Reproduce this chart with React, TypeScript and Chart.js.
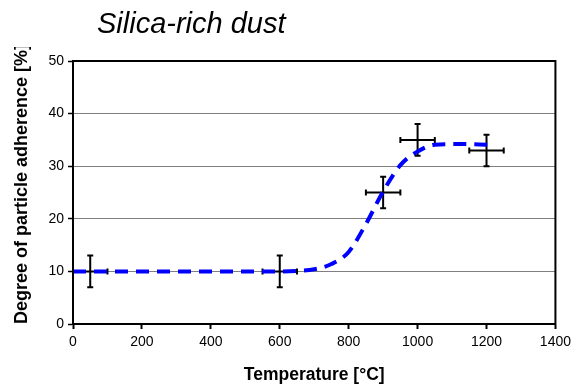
import React, { useEffect, useRef } from 'react';
import { Chart, registerables } from 'chart.js';

Chart.register(...registerables);

const FONT = '"Liberation Sans", Arial, sans-serif';

const chartTitle = 'Silica-rich dust';
const xTitle = 'Temperature [°C]';
const yTitle = 'Degree of particle adherence [%]';

// measured points with error bars
const measTemp = [50, 600, 900, 1000, 1200];
const measAdh = [10, 10, 25, 35, 33];
const tempErr = [50, 50, 50, 50, 50];
const adhErr = [3, 3, 3, 3, 3];

// fitted (dashed) curve
const fitTemp = [0, 100, 200, 300, 400, 500, 600, 650, 700, 750, 800, 850, 900, 950, 1000, 1050, 1100, 1150, 1200, 1225];
const fitAdh = [10, 10, 10, 10, 10, 10, 10, 10.1, 10.4, 11.4, 13.7, 19, 25.2, 30.2, 32.8, 34.1, 34.2, 34.2, 34.1, 34];

const xTicks = [0, 200, 400, 600, 800, 1000, 1200, 1400];
const yTicks = [0, 10, 20, 30, 40, 50];

const errorBarPlugin = {
  id: 'errorBars',
  beforeDatasetsDraw(chart: any) {
    const { ctx, scales } = chart;
    const x = scales.x;
    const y = scales.y;
    ctx.save();
    ctx.strokeStyle = '#000';
    ctx.lineWidth = 2;
    const c = 3;
    measTemp.forEach((t, i) => {
      const px = x.getPixelForValue(t);
      const py = y.getPixelForValue(measAdh[i]);
      const x0 = x.getPixelForValue(t - tempErr[i]);
      const x1 = x.getPixelForValue(t + tempErr[i]);
      const y0 = y.getPixelForValue(measAdh[i] - adhErr[i]);
      const y1 = y.getPixelForValue(measAdh[i] + adhErr[i]);
      ctx.beginPath();
      ctx.moveTo(x0, py); ctx.lineTo(x1, py);
      ctx.moveTo(px, y0); ctx.lineTo(px, y1);
      ctx.moveTo(x0, py - c); ctx.lineTo(x0, py + c);
      ctx.moveTo(x1, py - c); ctx.lineTo(x1, py + c);
      ctx.moveTo(px - c, y0); ctx.lineTo(px + c, y0);
      ctx.moveTo(px - c, y1); ctx.lineTo(px + c, y1);
      ctx.stroke();
    });
    ctx.restore();
  },
};

const framePlugin = {
  id: 'frame',
  beforeDraw(chart: any) {
    const { ctx, width, height } = chart;
    ctx.save();
    ctx.beginPath();
    ctx.rect(0, 47, width, height - 47);
    ctx.clip();
  },
  afterDatasetsDraw(chart: any) {
    const { ctx, chartArea } = chart;
    ctx.save();
    ctx.strokeStyle = '#000';
    ctx.lineWidth = 2;
    ctx.strokeRect(chartArea.left, chartArea.top, chartArea.right - chartArea.left, chartArea.bottom - chartArea.top);
    ctx.restore();
  },
  afterDraw(chart: any) {
    const { ctx } = chart;
    ctx.restore();
    ctx.save();
    ctx.fillStyle = '#000';
    ctx.font = `italic 29px ${FONT}`;
    ctx.textBaseline = 'alphabetic';
    ctx.textAlign = 'left';
    ctx.fillText(chartTitle, 97, 33);
    ctx.restore();
  },
};

export default function App() {
  const ref = useRef<HTMLCanvasElement | null>(null);

  useEffect(() => {
    if (!ref.current) return;
    const chart = new Chart(ref.current, {
      type: 'scatter',
      data: {
        datasets: [
          {
            type: 'line',
            label: 'fit',
            data: fitTemp.map((t, i) => ({ x: t, y: fitAdh[i] })),
            borderColor: '#0000FF',
            borderWidth: 4,
            borderDash: [13, 8],
            cubicInterpolationMode: 'monotone',
            pointRadius: 0,
            fill: false,
          } as any,
          {
            type: 'scatter',
            label: 'measured',
            data: measTemp.map((t, i) => ({ x: t, y: measAdh[i] })),
            pointRadius: 0,
            pointHoverRadius: 0,
          },
        ],
      },
      options: {
        animation: false,
        responsive: true,
        maintainAspectRatio: false,
        layout: { padding: { top: 61, right: 16, left: 0, bottom: 0 } },
        plugins: {
          legend: { display: false },
          tooltip: { enabled: false },
          title: { display: false },
        },
        scales: {
          x: {
            type: 'linear',
            min: 0,
            max: 1400,
            afterFit: (s: any) => { s.height = 60; },
            afterBuildTicks: (s: any) => { s.ticks = xTicks.map((v) => ({ value: v })); },
            ticks: {
              color: '#000',
              font: { family: FONT, size: 14 },
              padding: 5,
              maxRotation: 0,
              autoSkip: false,
              callback: (v: any) => String(v),
            },
            grid: { color: 'rgba(0,0,0,0)', tickColor: '#000', tickLength: 5, tickWidth: 2 },
            border: { display: true, color: '#000', width: 2 },
            title: {
              display: true,
              text: xTitle,
              color: '#000',
              font: { family: FONT, size: 17.5, weight: 'bold', lineHeight: 1 },
              padding: { top: 0, bottom: 0 },
            },
          },
          y: {
            type: 'linear',
            min: 0,
            max: 50,
            afterFit: (s: any) => { s.width = 73; },
            afterBuildTicks: (s: any) => { s.ticks = yTicks.map((v) => ({ value: v })); },
            ticks: {
              color: '#000',
              font: { family: FONT, size: 14 },
              padding: 4,
              callback: (v: any) => String(v),
            },
            grid: {
              color: (c: any) => (c.tick && (c.tick.value === 0 || c.tick.value === 50) ? 'rgba(0,0,0,0)' : '#7f7f7f'),
              lineWidth: 1,
              tickColor: '#000',
              tickLength: 5,
              tickWidth: 1.5,
            },
            border: { display: true, color: '#000', width: 2 },
            title: {
              display: true,
              text: yTitle,
              align: 'start',
              color: '#000',
              font: { family: FONT, size: 18, weight: 'bold', lineHeight: 1 },
              padding: { top: 13, bottom: 0 },
            },
          },
        },
      } as any,
      plugins: [errorBarPlugin, framePlugin],
    });
    return () => chart.destroy();
  }, []);

  return (
    <div style={{ position: 'fixed', left: 0, top: 0, width: 576, height: 384, background: '#fff' }}>
      <canvas ref={ref} />
    </div>
  );
}
